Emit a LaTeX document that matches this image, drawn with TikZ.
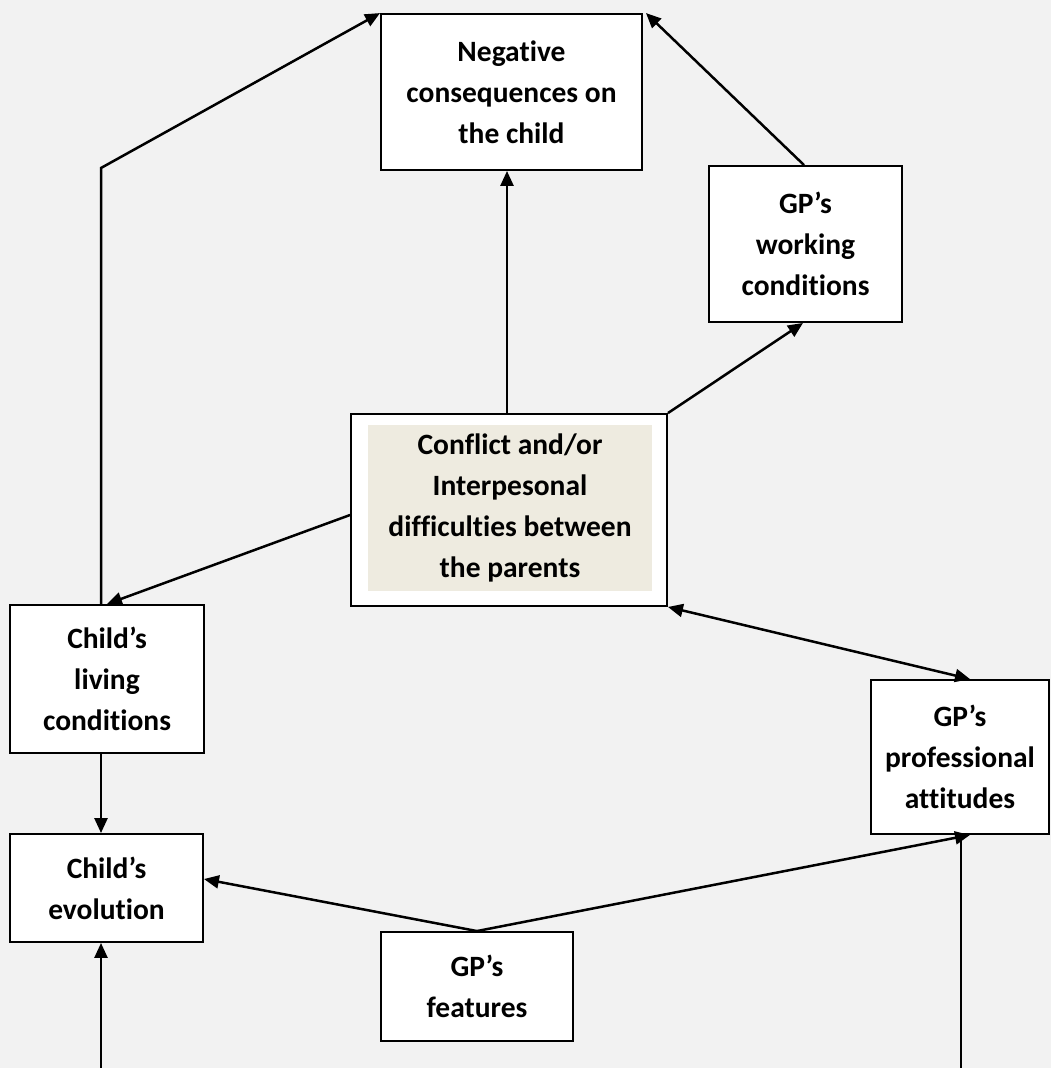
\documentclass[tikz,border=0pt]{standalone}
\usepackage{fontspec}
\setmainfont{Carlito}[Ligatures={NoCommon,NoContextual}]
\usetikzlibrary{arrows.meta,calc}
\definecolor{pagebg}{HTML}{F2F2F2}
\definecolor{beige}{HTML}{EEEBE0}
\begin{document}
\begin{tikzpicture}[x=1pt,y=-1pt,
  boxfont/.style={font=\fontsize{29.5}{41}\selectfont\bfseries},
  box/.style={draw=black,line width=1.9pt,fill=white,inner sep=0pt,
    align=center,boxfont},
  link/.style={line width=2.5pt,-{Triangle[length=15pt,width=13pt]}},
  twoway/.style={line width=2.5pt,{Triangle[length=15pt,width=13pt]}-{Triangle[length=15pt,width=13pt]}},
  plain/.style={line width=2.5pt}]
  % page
  \fill[pagebg] (0,0) rectangle (1051,1068);
  \useasboundingbox (0,0) rectangle (1051,1068);

  % boxes
  \node[box,minimum width=261pt,minimum height=156pt] (neg) at (511.5,92)
    {Negative\\consequences on\\the child};
  \node[box,minimum width=193pt,minimum height=156pt] (work) at (805.5,244)
    {GP’s\\working\\conditions};
  \node[box,minimum width=316pt,minimum height=192pt] (conf) at (509,510) {};
  \fill[beige] (368,425) rectangle (652,591);
  \node[align=center,inner sep=0pt,boxfont] (conftext) at (510,508)
    {Conflict and/or\\Interpesonal\\difficulties between\\the parents};
  \node[box,minimum width=194pt,minimum height=148pt] (living) at (107,679)
    {Child’s\\living\\conditions};
  \node[box,minimum width=178pt,minimum height=154pt] (prof) at (960,757)
    {GP’s\\professional\\attitudes};
  \node[box,minimum width=193pt,minimum height=108pt] (evol) at (106.5,888)
    {Child’s\\evolution};
  \node[box,minimum width=192pt,minimum height=109pt] (feat) at (477,986.5)
    {GP’s\\features};

  % free ends and bends
  \coordinate (bend) at (101,168);
  \coordinate (bl) at (101,1068);
  \coordinate (br) at (961,1068);

  % connectors
  \draw[link] (bend |- living.north) -- (bend) -- (neg.north west);
  \draw[link] ([xshift=-2pt]conf.north) -- ([xshift=-2pt]conf.north |- neg.south);
  \draw[link] ([xshift=-1.5pt]work.north) -- ([xshift=3pt]neg.north east);
  \draw[link] (conf.north east) -- ([xshift=-2.5pt]work.south);
  \draw[link] ([yshift=-5pt]conf.west) -- (living.north);
  \draw[twoway] (conf.south east) -- ([xshift=10pt]prof.north);
  \draw[link] (bend |- living.south) -- (bend |- evol.north);
  \draw[link] (feat.north) -- ([yshift=9pt]evol.east);
  \draw[link] (feat.north) -- ([xshift=10pt]prof.south);
  \draw[link] (bl) -- (bl |- evol.south);
  \draw[plain] (br) -- (br |- prof.south);
\end{tikzpicture}
\end{document}
